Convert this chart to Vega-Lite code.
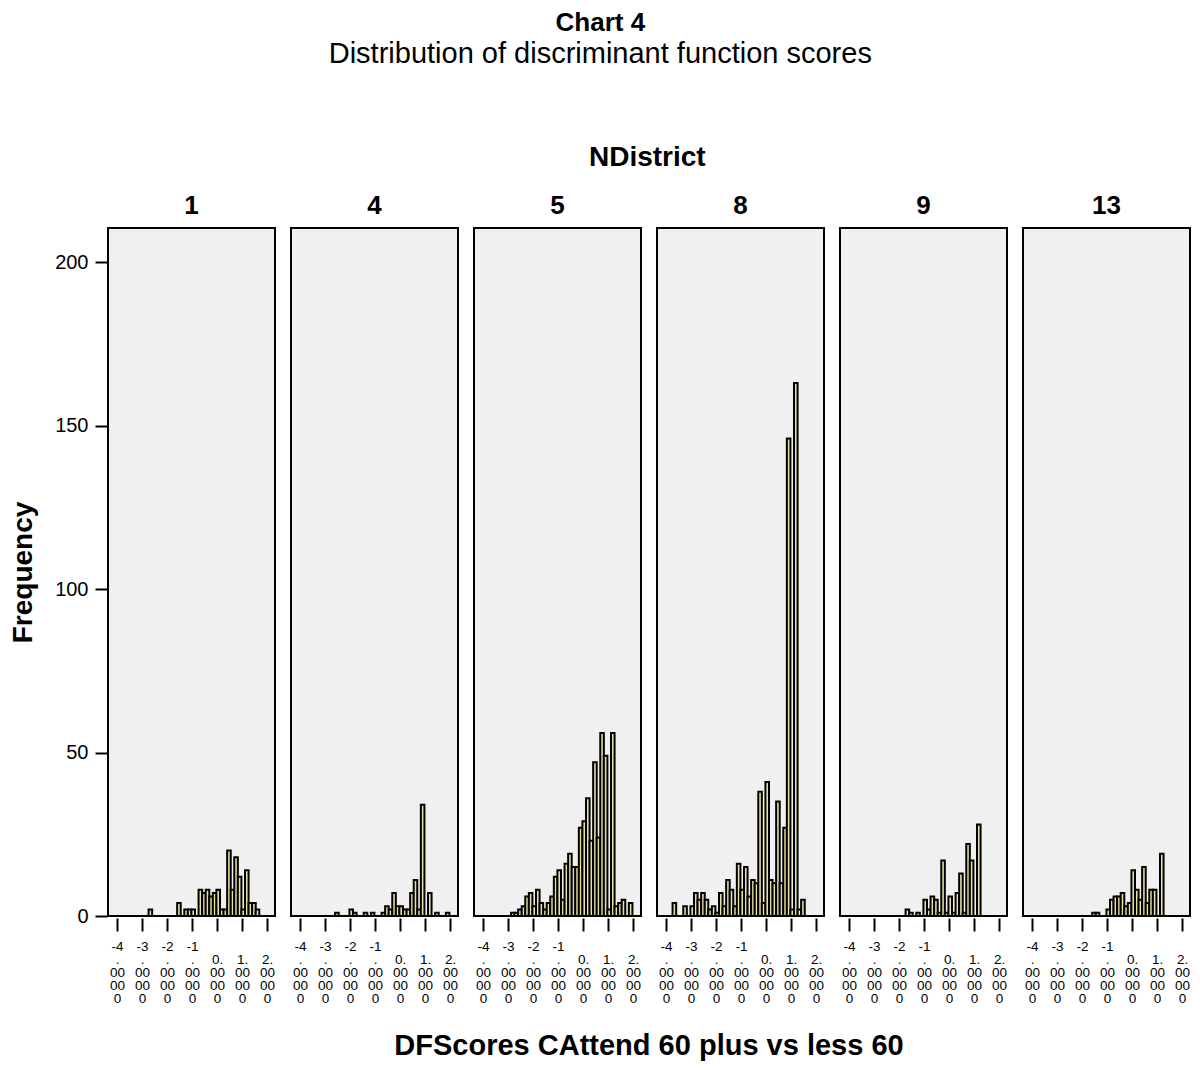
{
 "$schema": "https://vega.github.io/schema/vega-lite/v6.json",
 "padding": {"top": 10, "left": 9, "right": 5, "bottom": 5},
 "background": "white",
 "config": {
   "font": "Liberation Sans",
   "view": {"stroke": "black", "strokeWidth": 2, "fill": "#f0f0f0"},
   "axis": {"domain": false, "tickColor": "black", "tickWidth": 2, "labelColor": "black", "titleColor": "black", "grid": false},
   "concat": {"spacing": 0}
 },
 "title": {"text": "Chart 4", "subtitle": "Distribution of discriminant function scores", "fontSize": 26, "fontWeight": "bold", "subtitleFontSize": 29, "subtitleColor": "black", "color": "black", "anchor": "middle", "subtitlePadding": 4, "offset": 75, "font": "Liberation Sans", "subtitleFont": "Liberation Sans"},
 "vconcat": [{
   "title": {"text": "NDistrict", "fontSize": 28, "fontWeight": "bold", "anchor": "middle", "color": "black", "offset": 21, "dx": 47},
   "data": {"values": [
    {"district":1,"x0":-2.737,"x1":-2.594,"n":2},
    {"district":1,"x0":-1.594,"x1":-1.451,"n":4},
    {"district":1,"x0":-1.309,"x1":-1.166,"n":2},
    {"district":1,"x0":-1.166,"x1":-1.023,"n":2},
    {"district":1,"x0":-1.023,"x1":-0.880,"n":2},
    {"district":1,"x0":-0.737,"x1":-0.594,"n":8},
    {"district":1,"x0":-0.594,"x1":-0.451,"n":7},
    {"district":1,"x0":-0.451,"x1":-0.309,"n":8},
    {"district":1,"x0":-0.309,"x1":-0.166,"n":6},
    {"district":1,"x0":-0.166,"x1":-0.023,"n":7},
    {"district":1,"x0":-0.023,"x1":0.120,"n":8},
    {"district":1,"x0":0.120,"x1":0.263,"n":2},
    {"district":1,"x0":0.263,"x1":0.406,"n":2},
    {"district":1,"x0":0.406,"x1":0.549,"n":20},
    {"district":1,"x0":0.549,"x1":0.691,"n":8},
    {"district":1,"x0":0.691,"x1":0.834,"n":18},
    {"district":1,"x0":0.834,"x1":0.977,"n":12},
    {"district":1,"x0":0.977,"x1":1.120,"n":2},
    {"district":1,"x0":1.120,"x1":1.263,"n":14},
    {"district":1,"x0":1.263,"x1":1.406,"n":4},
    {"district":1,"x0":1.406,"x1":1.549,"n":4},
    {"district":1,"x0":1.549,"x1":1.691,"n":2},

    {"district":4,"x0":-2.594,"x1":-2.451,"n":1},
    {"district":4,"x0":-2.023,"x1":-1.880,"n":2},
    {"district":4,"x0":-1.880,"x1":-1.737,"n":1},
    {"district":4,"x0":-1.451,"x1":-1.309,"n":1},
    {"district":4,"x0":-1.166,"x1":-1.023,"n":1},
    {"district":4,"x0":-0.737,"x1":-0.594,"n":1},
    {"district":4,"x0":-0.594,"x1":-0.451,"n":3},
    {"district":4,"x0":-0.451,"x1":-0.309,"n":2},
    {"district":4,"x0":-0.309,"x1":-0.166,"n":7},
    {"district":4,"x0":-0.166,"x1":-0.023,"n":3},
    {"district":4,"x0":-0.023,"x1":0.120,"n":3},
    {"district":4,"x0":0.120,"x1":0.263,"n":2},
    {"district":4,"x0":0.263,"x1":0.406,"n":2},
    {"district":4,"x0":0.406,"x1":0.549,"n":7},
    {"district":4,"x0":0.549,"x1":0.691,"n":11},
    {"district":4,"x0":0.691,"x1":0.834,"n":2},
    {"district":4,"x0":0.834,"x1":0.977,"n":34},
    {"district":4,"x0":1.120,"x1":1.263,"n":7},
    {"district":4,"x0":1.406,"x1":1.549,"n":1},
    {"district":4,"x0":1.834,"x1":1.977,"n":1},

    {"district":5,"x0":-2.880,"x1":-2.737,"n":1},
    {"district":5,"x0":-2.737,"x1":-2.594,"n":1},
    {"district":5,"x0":-2.594,"x1":-2.451,"n":2},
    {"district":5,"x0":-2.451,"x1":-2.309,"n":3},
    {"district":5,"x0":-2.309,"x1":-2.166,"n":6},
    {"district":5,"x0":-2.166,"x1":-2.023,"n":7},
    {"district":5,"x0":-2.023,"x1":-1.880,"n":3},
    {"district":5,"x0":-1.880,"x1":-1.737,"n":8},
    {"district":5,"x0":-1.737,"x1":-1.594,"n":4},
    {"district":5,"x0":-1.594,"x1":-1.451,"n":2},
    {"district":5,"x0":-1.451,"x1":-1.309,"n":4},
    {"district":5,"x0":-1.309,"x1":-1.166,"n":6},
    {"district":5,"x0":-1.166,"x1":-1.023,"n":12},
    {"district":5,"x0":-1.023,"x1":-0.880,"n":14},
    {"district":5,"x0":-0.880,"x1":-0.737,"n":5},
    {"district":5,"x0":-0.737,"x1":-0.594,"n":16},
    {"district":5,"x0":-0.594,"x1":-0.451,"n":19},
    {"district":5,"x0":-0.451,"x1":-0.309,"n":15},
    {"district":5,"x0":-0.309,"x1":-0.166,"n":15},
    {"district":5,"x0":-0.166,"x1":-0.023,"n":27},
    {"district":5,"x0":-0.023,"x1":0.120,"n":29},
    {"district":5,"x0":0.120,"x1":0.263,"n":36},
    {"district":5,"x0":0.263,"x1":0.406,"n":23},
    {"district":5,"x0":0.406,"x1":0.549,"n":47},
    {"district":5,"x0":0.549,"x1":0.691,"n":24},
    {"district":5,"x0":0.691,"x1":0.834,"n":56},
    {"district":5,"x0":0.834,"x1":0.977,"n":49},
    {"district":5,"x0":0.977,"x1":1.120,"n":2},
    {"district":5,"x0":1.120,"x1":1.263,"n":56},
    {"district":5,"x0":1.263,"x1":1.406,"n":3},
    {"district":5,"x0":1.406,"x1":1.549,"n":4},
    {"district":5,"x0":1.549,"x1":1.691,"n":5},
    {"district":5,"x0":1.834,"x1":1.977,"n":4},

    {"district":8,"x0":-3.737,"x1":-3.594,"n":4},
    {"district":8,"x0":-3.309,"x1":-3.166,"n":3},
    {"district":8,"x0":-3.023,"x1":-2.880,"n":3},
    {"district":8,"x0":-2.880,"x1":-2.737,"n":7},
    {"district":8,"x0":-2.737,"x1":-2.594,"n":5},
    {"district":8,"x0":-2.594,"x1":-2.451,"n":7},
    {"district":8,"x0":-2.451,"x1":-2.309,"n":5},
    {"district":8,"x0":-2.309,"x1":-2.166,"n":2},
    {"district":8,"x0":-2.166,"x1":-2.023,"n":3},
    {"district":8,"x0":-2.023,"x1":-1.880,"n":1},
    {"district":8,"x0":-1.880,"x1":-1.737,"n":7},
    {"district":8,"x0":-1.737,"x1":-1.594,"n":3},
    {"district":8,"x0":-1.594,"x1":-1.451,"n":11},
    {"district":8,"x0":-1.451,"x1":-1.309,"n":8},
    {"district":8,"x0":-1.309,"x1":-1.166,"n":3},
    {"district":8,"x0":-1.166,"x1":-1.023,"n":16},
    {"district":8,"x0":-1.023,"x1":-0.880,"n":8},
    {"district":8,"x0":-0.880,"x1":-0.737,"n":15},
    {"district":8,"x0":-0.737,"x1":-0.594,"n":6},
    {"district":8,"x0":-0.594,"x1":-0.451,"n":11},
    {"district":8,"x0":-0.451,"x1":-0.309,"n":10},
    {"district":8,"x0":-0.309,"x1":-0.166,"n":38},
    {"district":8,"x0":-0.166,"x1":-0.023,"n":4},
    {"district":8,"x0":-0.023,"x1":0.120,"n":41},
    {"district":8,"x0":0.120,"x1":0.263,"n":11},
    {"district":8,"x0":0.263,"x1":0.406,"n":10},
    {"district":8,"x0":0.406,"x1":0.549,"n":35},
    {"district":8,"x0":0.549,"x1":0.691,"n":10},
    {"district":8,"x0":0.691,"x1":0.834,"n":27},
    {"district":8,"x0":0.834,"x1":0.977,"n":146},
    {"district":8,"x0":0.977,"x1":1.120,"n":2},
    {"district":8,"x0":1.120,"x1":1.263,"n":163},
    {"district":8,"x0":1.263,"x1":1.406,"n":2},
    {"district":8,"x0":1.406,"x1":1.549,"n":5},

    {"district":9,"x0":-1.737,"x1":-1.594,"n":2},
    {"district":9,"x0":-1.594,"x1":-1.451,"n":1},
    {"district":9,"x0":-1.309,"x1":-1.166,"n":1},
    {"district":9,"x0":-1.023,"x1":-0.880,"n":5},
    {"district":9,"x0":-0.880,"x1":-0.737,"n":2},
    {"district":9,"x0":-0.737,"x1":-0.594,"n":6},
    {"district":9,"x0":-0.594,"x1":-0.451,"n":5},
    {"district":9,"x0":-0.451,"x1":-0.309,"n":1},
    {"district":9,"x0":-0.309,"x1":-0.166,"n":17},
    {"district":9,"x0":-0.166,"x1":-0.023,"n":1},
    {"district":9,"x0":-0.023,"x1":0.120,"n":6},
    {"district":9,"x0":0.120,"x1":0.263,"n":1},
    {"district":9,"x0":0.263,"x1":0.406,"n":7},
    {"district":9,"x0":0.406,"x1":0.549,"n":13},
    {"district":9,"x0":0.549,"x1":0.691,"n":1},
    {"district":9,"x0":0.691,"x1":0.834,"n":22},
    {"district":9,"x0":0.834,"x1":0.977,"n":17},
    {"district":9,"x0":1.120,"x1":1.263,"n":28},

    {"district":13,"x0":-1.594,"x1":-1.451,"n":1},
    {"district":13,"x0":-1.451,"x1":-1.309,"n":1},
    {"district":13,"x0":-1.023,"x1":-0.880,"n":2},
    {"district":13,"x0":-0.880,"x1":-0.737,"n":5},
    {"district":13,"x0":-0.737,"x1":-0.594,"n":6},
    {"district":13,"x0":-0.594,"x1":-0.451,"n":6},
    {"district":13,"x0":-0.451,"x1":-0.309,"n":7},
    {"district":13,"x0":-0.309,"x1":-0.166,"n":3},
    {"district":13,"x0":-0.166,"x1":-0.023,"n":4},
    {"district":13,"x0":-0.023,"x1":0.120,"n":14},
    {"district":13,"x0":0.120,"x1":0.263,"n":8},
    {"district":13,"x0":0.263,"x1":0.406,"n":5},
    {"district":13,"x0":0.406,"x1":0.549,"n":15},
    {"district":13,"x0":0.549,"x1":0.691,"n":4},
    {"district":13,"x0":0.691,"x1":0.834,"n":8},
    {"district":13,"x0":0.834,"x1":0.977,"n":8},
    {"district":13,"x0":1.120,"x1":1.263,"n":19}
   ]},
   "facet": {"column": {"field": "district", "type": "ordinal", "sort": "ascending", "header": {"title": "DFScores CAttend 60 plus vs less 60", "titleOrient": "bottom", "titleFontSize": 29, "titleFontWeight": "bold", "titleColor": "black", "titlePadding": 17, "labelOrient": "top", "labelFontSize": 26, "labelFontWeight": "bold", "labelColor": "black", "labelPadding": 8}}},
   "spacing": 14,
   "spec": {
     "width": 167,
     "height": 688,
     "mark": {"type": "bar", "orient": "vertical", "fill": "#e9e29e", "stroke": "black", "strokeWidth": 2},
     "encoding": {
       "x": {"field": "x0", "type": "quantitative", "scale": {"domain": [-4.36, 2.32], "nice": false, "zero": false, "padding": 0},
             "axis": {"title": null, "values": [-4, -3, -2, -1, 0, 1, 2], "tickSize": 13, "labelFontSize": 13.5, "labelLineHeight": 13, "labelPadding": 8, "labelOverlap": false, "labelFlush": false,
                      "labelExpr": "datum.value < 0 ? ['' + datum.value, '.', '00', '00', '0'] : ['', datum.value + '.', '00', '00', '0']"}},
       "x2": {"field": "x1"},
       "y": {"field": "n", "type": "quantitative", "scale": {"domain": [0, 210.4], "nice": false, "padding": 0},
             "axis": {"title": "Frequency", "values": [0, 50, 100, 150, 200], "tickSize": 12, "labelFontSize": 20, "labelPadding": 7, "titleFontSize": 28, "titleFontWeight": "bold", "titlePadding": 17}},
       "y2": {"datum": 0}
     }
   }
 }]
}
